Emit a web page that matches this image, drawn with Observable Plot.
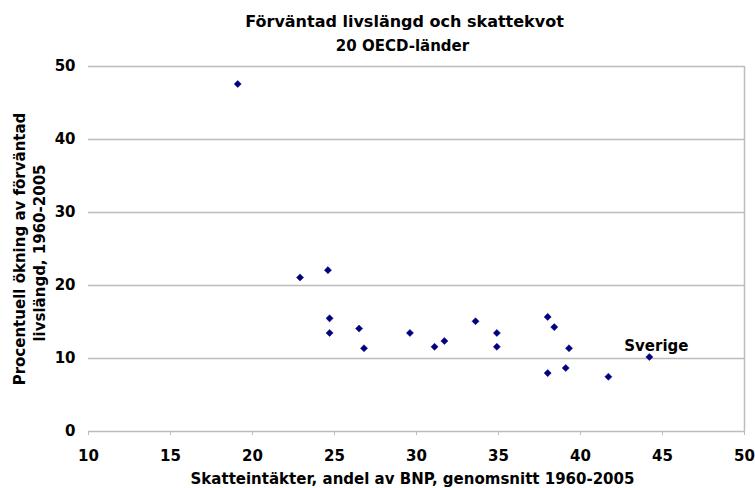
<!DOCTYPE html>
<html>
<head>
<meta charset="utf-8">
<script src="https://cdn.jsdelivr.net/npm/d3@7"></script>
<script src="https://cdn.jsdelivr.net/npm/@observablehq/plot@0.6"></script>
<style>
  html, body { margin: 0; padding: 0; background: #fff; }
  #chart svg { font-family: "DejaVu Sans", Verdana, sans-serif; }
</style>
</head>
<body>
<div id="chart"></div>
<script>
// Skatteintäkter, andel av BNP, genomsnitt 1960-2005
const skattekvot = [19.1, 22.9, 24.6, 24.7, 24.7, 26.5, 26.8, 29.6, 31.1, 31.7, 33.6, 34.9, 34.9, 38.0, 38.4, 39.3, 38.0, 39.1, 41.7, 44.2];
// Procentuell ökning av förväntad livslängd, 1960-2005
const okning = [47.6, 21.1, 22.1, 15.5, 13.5, 14.1, 11.4, 13.5, 11.6, 12.4, 15.1, 13.5, 11.6, 15.7, 14.3, 11.4, 8.0, 8.7, 7.5, 10.2];
const etiketter = ["", "", "", "", "", "", "", "", "", "", "", "", "", "", "", "", "", "", "", "Sverige"];

const xTicks = [10, 15, 20, 25, 30, 35, 40, 45, 50];
const yTicks = [0, 10, 20, 30, 40, 50];

const title = "Förväntad livslängd och skattekvot";
const subtitle = "20 OECD-länder";
const xLabel = "Skatteintäkter, andel av BNP, genomsnitt 1960-2005";
const yLabel1 = "Procentuell ökning av förväntad";
const yLabel2 = "livslängd, 1960-2005";

const data = skattekvot.map((x, i) => ({x, y: okning[i], label: etiketter[i]}));
const xMax = xTicks[xTicks.length - 1];

const chart = Plot.plot({
  width: 755,
  height: 488,
  marginTop: 66,
  marginBottom: 57,
  marginLeft: 88,
  marginRight: 11,
  style: {fontFamily: "DejaVu Sans", fontSize: "15px", fontWeight: "bold", color: "#000", background: "#fff"},
  x: {domain: [10, 50], ticks: xTicks},
  y: {domain: [0, 50], ticks: yTicks},
  marks: [
    Plot.gridY(yTicks.filter(d => d > 0), {stroke: "#bcbcbc", strokeOpacity: 1, strokeWidth: 1.5}),
    Plot.ruleX([xMax], {stroke: "#bcbcbc", strokeWidth: 1.5}),
    Plot.ruleY([0], {stroke: "#bcbcbc", strokeWidth: 1.5}),
    Plot.axisX({ticks: xTicks, tickSize: 4, tickPadding: 15, stroke: "#bcbcbc", label: null, fontSize: 15, fontWeight: "bold", fill: "#000"}),
    Plot.axisY({ticks: yTicks, tickSize: 0, tickPadding: 13, label: null, fontSize: 15, fontWeight: "bold", fill: "#000"}),
    Plot.dot(data, {x: "x", y: "y", symbol: "diamond2", r: 3.2, fill: "#000080", stroke: "#000080", strokeWidth: 0.5}),
    Plot.text(data.filter(d => d.label), {x: "x", y: "y", text: "label", dx: 7, dy: -6, lineAnchor: "bottom", fontSize: 15, fontWeight: "bold", fill: "#000"}),
    Plot.text([title], {frameAnchor: "top", textAnchor: "middle", dx: -12, dy: -40, lineAnchor: "bottom", fontSize: 16, fontWeight: "bold", fill: "#000"}),
    Plot.text([subtitle], {frameAnchor: "top", textAnchor: "middle", dx: -14, dy: -16, lineAnchor: "bottom", fontSize: 15, fontWeight: "bold", fill: "#000"}),
    Plot.text([xLabel], {frameAnchor: "bottom", textAnchor: "middle", dx: -4, dy: 52, lineAnchor: "bottom", fontSize: 15, fontWeight: "bold", fill: "#000"}),
    Plot.text([yLabel1], {frameAnchor: "left", textAnchor: "middle", dx: -64, dy: 0, rotate: -90, lineAnchor: "bottom", fontSize: 15, fontWeight: "bold", fill: "#000"}),
    Plot.text([yLabel2], {frameAnchor: "left", textAnchor: "middle", dx: -44, dy: 4, rotate: -90, lineAnchor: "bottom", fontSize: 15, fontWeight: "bold", fill: "#000"})
  ]
});
document.getElementById("chart").appendChild(chart);
</script>
</body>
</html>
